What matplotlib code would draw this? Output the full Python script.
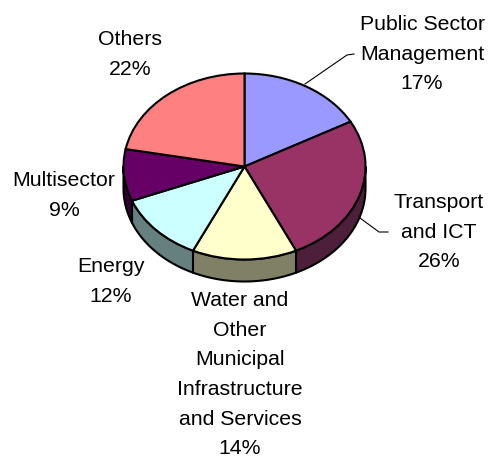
import numpy as np
import matplotlib
matplotlib.use("Agg")
import matplotlib.pyplot as plt
from matplotlib.patches import Polygon

plt.rcParams["font.family"] = ["Liberation Sans", "DejaVu Sans"]

categories = ["Public Sector\nManagement", "Transport\nand ICT",
              "Water and\nOther\nMunicipal\nInfrastructure\nand Services",
              "Energy", "Multisector", "Others"]
shares = [17, 26, 14, 12, 9, 22]
top_colors = ["#9999FF", "#993366", "#FFFFCC", "#CCFFFF", "#660066", "#FF8080"]
side_colors = ["#4D4D80", "#4D1F3A", "#808066", "#668080", "#330033", "#804040"]
label_anchors = [(422, 30), (439, 208), (240, 306), (111, 272), (64, 186), (130, 45)]

W, H = 489, 459
CX, CY, RX, RY, DEPTH = 244.5, 166.5, 121, 93, 22
EDGE = 1.5
LINE_STEP = 29.7

fig = plt.figure(figsize=(W / 100, H / 100), dpi=100, facecolor="white")

# Pie axes: one data unit is the radius, stretched to give the tilted ellipse
ax = fig.add_axes([0, 0, 1, 1])
ax.pie(shares, colors=top_colors, startangle=90, counterclock=False,
       wedgeprops=dict(edgecolor="black", linewidth=EDGE, zorder=3))
ax.set_aspect("auto")
ax.set_xlim(-CX / RX, (W - CX) / RX)
ax.set_ylim(-(H - CY) / RY, CY / RY)
ax.axis("off")

# Extruded rim along the front half of the disc
drop = DEPTH / RY
edges = np.cumsum([0] + shares) / sum(shares) * 360
for start, end, color in zip(edges[:-1], edges[1:], side_colors):
    lo, hi = max(start, 90), min(end, 270)
    if hi <= lo:
        continue
    t = np.radians(np.linspace(lo, hi, 80))
    x, y = np.sin(t), np.cos(t)
    outline = np.r_[np.c_[x, y], np.c_[x, y - drop][::-1]]
    ax.add_patch(Polygon(outline, closed=True, facecolor=color,
                         edgecolor="black", linewidth=EDGE, zorder=2,
                         joinstyle="round"))

# Overlay in pixel units for labels and leader lines
over = fig.add_axes([0, 0, 1, 1], facecolor="none")
over.set_xlim(0, W)
over.set_ylim(H, 0)
over.axis("off")

for name, share, (lx, ly) in zip(categories, shares, label_anchors):
    for i, line in enumerate(name.split("\n") + [f"{share}%"]):
        over.text(lx, ly + i * LINE_STEP, line, ha="center", va="baseline",
                  fontsize=15.3, color="black")

over.plot([305, 347, 354], [84, 55, 54], color="black", lw=0.8)
over.plot([360, 379, 388], [218, 232, 232], color="black", lw=0.8)

fig.savefig("out.png", dpi=100, facecolor="white")
